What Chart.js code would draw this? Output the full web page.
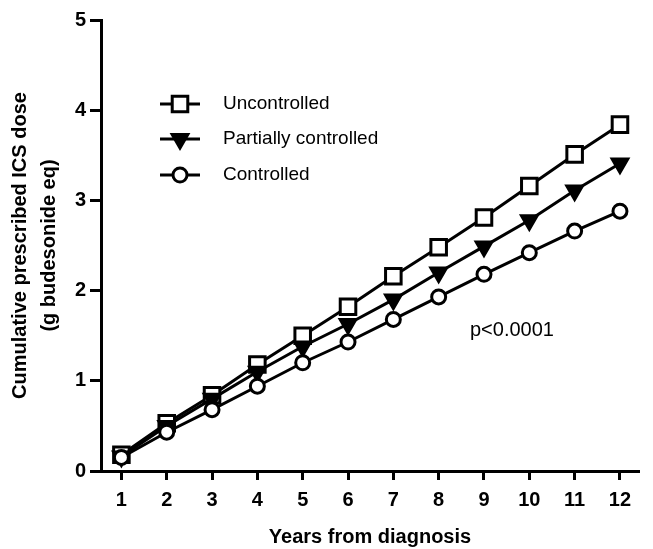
<!DOCTYPE html>
<html>
<head>
<meta charset="utf-8">
<script src="https://cdn.jsdelivr.net/npm/chart.js@4.4.0/dist/chart.umd.min.js"></script>
<style>
  html, body { margin: 0; padding: 0; background: #fff; }
  #wrap { width: 653px; height: 549px; }
</style>
</head>
<body>
<div id="wrap"><canvas id="doseChart"></canvas></div>
<script>
const years = [1, 2, 3, 4, 5, 6, 7, 8, 9, 10, 11, 12];
const uncontrolled = [0.18, 0.53, 0.84, 1.18, 1.50, 1.82, 2.16, 2.48, 2.81, 3.16, 3.51, 3.84];
const partial = [0.16, 0.50, 0.80, 1.10, 1.38, 1.63, 1.90, 2.20, 2.49, 2.78, 3.11, 3.41];
const controlled = [0.15, 0.43, 0.68, 0.94, 1.20, 1.43, 1.68, 1.93, 2.18, 2.42, 2.66, 2.88];
const yTicks = [0, 1, 2, 3, 4, 5];

const FONT = '"Liberation Sans", Arial, sans-serif';

function pts(values) {
    return values.map(function (v, i) { return { x: years[i], y: v }; });
}

const seriesStyle = {
    borderColor: '#000',
    borderWidth: 3,
    pointBorderWidth: 3,
    pointBorderColor: '#000',
    showLine: true,
    tension: 0
};

// legend drawn as line + marker, like the original figure
const legendPlugin = {
    id: 'lineLegend',
    afterDraw(chart) {
        const ctx = chart.ctx;
        const rows = [104, 139, 175];
        chart.data.datasets.forEach(function (ds, i) {
            const y = rows[i];
            ctx.save();
            ctx.strokeStyle = '#000';
            ctx.lineWidth = 3;
            ctx.beginPath();
            ctx.moveTo(160, y);
            ctx.lineTo(200, y);
            ctx.stroke();
            ctx.fillStyle = ds.pointBackgroundColor;
            ctx.strokeStyle = '#000';
            ctx.lineWidth = 3;
            Chart.helpers.drawPoint(ctx, {
                pointStyle: ds.pointStyle,
                rotation: ds.pointRotation || 0,
                radius: ds.pointRadius,
                borderWidth: 3
            }, 180, y);
            ctx.fillStyle = '#000';
            ctx.font = '19px ' + FONT;
            ctx.textBaseline = 'middle';
            ctx.textAlign = 'left';
            ctx.fillText(ds.label, 223, y);
            ctx.restore();
        });
        ctx.save();
        ctx.fillStyle = '#000';
        ctx.font = '20px ' + FONT;
        ctx.textBaseline = 'middle';
        ctx.fillText('p<0.0001', 470, 330);
        ctx.restore();
    }
};

new Chart(document.getElementById('doseChart').getContext('2d'), {
    type: 'scatter',
    data: {
        datasets: [
            Object.assign({}, seriesStyle, {
                label: 'Uncontrolled',
                data: pts(uncontrolled),
                pointStyle: 'rect',
                pointRadius: 11,
                pointHoverRadius: 11,
                pointBackgroundColor: '#fff',
                order: 3
            }),
            Object.assign({}, seriesStyle, {
                label: 'Partially controlled',
                data: pts(partial),
                pointStyle: 'triangle',
                pointRotation: 180,
                pointRadius: 9,
                pointHoverRadius: 9,
                pointBackgroundColor: '#000',
                order: 2
            }),
            Object.assign({}, seriesStyle, {
                label: 'Controlled',
                data: pts(controlled),
                pointStyle: 'circle',
                pointRadius: 7,
                pointHoverRadius: 7,
                pointBackgroundColor: '#fff',
                order: 1
            })
        ]
    },
    options: {
        responsive: true,
        maintainAspectRatio: false,
        animation: false,
        layout: { padding: { top: 20, right: 1, left: 0, bottom: 0 } },
        plugins: {
            legend: { display: false },
            tooltip: { enabled: false }
        },
        scales: {
            x: {
                type: 'linear',
                min: 0.55,
                max: 12.42,
                afterBuildTicks(scale) {
                    scale.ticks = years.map(function (v) { return { value: v }; });
                },
                afterFit(scale) { scale.height = 78; },
                grid: {
                    display: true,
                    drawOnChartArea: false,
                    drawTicks: true,
                    tickLength: 9,
                    tickWidth: 3,
                    tickColor: '#000'
                },
                border: { display: true, color: '#000', width: 3 },
                ticks: {
                    color: '#000',
                    padding: 8,
                    font: { family: FONT, size: 20, weight: 'bold' }
                },
                title: {
                    display: true,
                    text: 'Years from diagnosis',
                    color: '#000',
                    padding: { top: 0, bottom: 0 },
                    font: { family: FONT, size: 20, weight: 'bold' }
                }
            },
            y: {
                min: 0,
                max: 5,
                afterBuildTicks(scale) {
                    scale.ticks = yTicks.map(function (v) { return { value: v }; });
                },
                afterFit(scale) { scale.width = 101; },
                grid: {
                    display: true,
                    drawOnChartArea: false,
                    drawTicks: true,
                    tickLength: 11,
                    tickWidth: 3,
                    tickColor: '#000'
                },
                border: { display: true, color: '#000', width: 3 },
                ticks: {
                    color: '#000',
                    padding: 4,
                    font: { family: FONT, size: 20, weight: 'bold' }
                },
                title: {
                    display: true,
                    text: ['Cumulative prescribed ICS dose', '(g budesonide eq)'],
                    color: '#000',
                    padding: { top: 6, bottom: 0 },
                    font: { family: FONT, size: 20, weight: 'bold', lineHeight: 1.45 }
                }
            }
        }
    },
    plugins: [legendPlugin]
});
</script>
</body>
</html>
